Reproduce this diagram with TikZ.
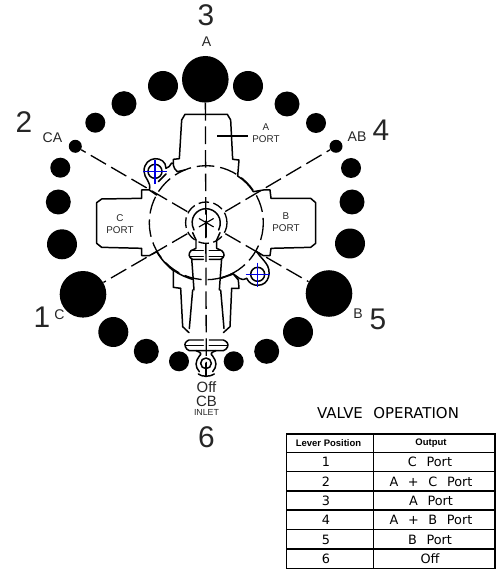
\documentclass[tikz,border=0pt]{standalone}
\usepackage{fontspec}
\setmainfont{Liberation Sans}
\newfontfamily\cadfont{DejaVu Sans}
\usetikzlibrary{calc}
\tikzset{
  dot/.style={circle,fill=black,inner sep=0pt,minimum size=#1*2*0.5691pt},
  lbl/.style={text=black!85,inner sep=0pt,font=\fontsize{#1}{#1}\selectfont},
  sld/.style={line width=0.85pt,line join=round,line cap=round},
  thn/.style={line width=0.65pt},
  dsh/.style={line width=0.75pt,dash pattern=on 10pt off 3.4pt},
  holec/.style={blue!90!black,line width=0.65pt},
  cellline/.style={line width=0.7pt},
  hd/.style={inner sep=0pt,font=\fontsize{5.4}{5.4}\selectfont\bfseries},
  cell/.style={inner sep=0pt,font=\cadfont\fontsize{7.3}{7.3}\selectfont},
  zm/.style={shift={(90,100)},scale=1/3},
  zl/.style={shift={(120,230)},scale=1/3}
}
\begin{document}
\begin{tikzpicture}[x=0.02cm,y=-0.02cm]
\useasboundingbox (0,0) rectangle (499,570);
% dots
\node[dot=23.3] (cA) at (205.3,79.3) {};
\node[dot=15] (a1) at (163,86) {};
\node[dot=12.5] (a2) at (124,103.7) {};
\node[dot=10] (a3) at (95.3,122.7) {};
\node[dot=6.5] (cCA) at (75.3,146.3) {};
\node[dot=10] (a4) at (60.3,167.7) {};
\node[dot=12.5] (a5) at (58.3,202) {};
\node[dot=15] (a6) at (62,244.3) {};
\node[dot=23.3] (cC) at (83,294.3) {};
\node[dot=15] (a7) at (113.3,332) {};
\node[dot=12.5] (a8) at (146.3,351.3) {};
\node[dot=10] (a9) at (179,361.3) {};
\node[dot=15] (b1) at (248,86) {};
\node[dot=12.5] (b2) at (287,104) {};
\node[dot=10] (b3) at (316,123) {};
\node[dot=6.5] (cAB) at (336,146.3) {};
\node[dot=10] (b4) at (351,168) {};
\node[dot=12.5] (b5) at (352,202) {};
\node[dot=15] (b6) at (350,243.5) {};
\node[dot=23.3] (cB) at (329,293.5) {};
\node[dot=15] (b7) at (298,332) {};
\node[dot=12.5] (b8) at (266.7,351.3) {};
\node[dot=10] (b9) at (233.7,361.3) {};
\coordinate (ctr) at (206.3,222.7);
\coordinate (vend) at (206.3,368);
% radial centre lines
\foreach \t in {cCA,cAB,cC,cB}{
  \draw[dsh,shorten <=12.5pt] (ctr) -- (\t);
}
\draw[dsh] (cA) -- (vend);
% dashed circles
\draw[dsh] (ctr) circle[radius=57];
\draw[dsh,dash pattern=on 6pt off 2.5pt] (ctr) circle[radius=20.7];
% asterisk + inner circle
\draw[thn] (ctr) ++(-30:8.5) -- ++(150:17);
\draw[thn] (ctr) ++(30:8.5) -- ++(210:17);
\draw[thn] (206.3,210) -- (206.3,237);
\begin{scope}[zm]
 \draw[sld] (312,390) .. controls (295,355) and (320,326) .. (348,326) .. controls (376,326) and (402,355) .. (386,390);
 % A port and upper right
 \draw[sld] (262,215) .. controls (256,208) and (250,204) .. (250,195) -- (250,178) -- (268,176) -- (275,60) -- (285,43) -- (412,43) -- (422,60) -- (428,178) -- (447,180) -- (443,228) .. controls (462,240) and (480,258) .. (490,275) -- (520,270) -- (540,270) -- (543,295) -- (662,295) -- (677,308) -- (677,430) -- (662,442) -- (543,445) -- (540,467) -- (520,467) -- (500,455);
 \draw[sld] (262,215) -- (285,210);
 \draw[sld] (430,522) .. controls (445,530) and (450,545) .. (470,535);
 % C port
 \draw[sld] (200,285) -- (178,270) -- (155,270) -- (155,295) -- (35,297) -- (20,308) -- (20,430) -- (35,442) -- (155,445) -- (155,467) -- (178,467) -- (200,455) .. controls (215,480) and (232,497) .. (250,512) -- (250,562) -- (272,565);
 % leader
 \draw[thn] (382,108) -- (475,108);
 % hole 1
 \draw[sld] (195,214) circle[radius=21];
 \draw[sld] (250,190) .. controls (240,185) and (245,200) .. (228,205) .. controls (228,165) and (162,165) .. (162,214) .. controls (162,235) and (185,245) .. (178,270);
 \draw[sld] (228,222) -- (205,245);
 \draw[holec] (159,214) -- (231,214) (195,180) -- (195,251);
 % hole 2
 \draw[sld] (500,455) .. controls (510,470) and (520,478) .. (528,490) .. controls (545,510) and (540,556) .. (503,556) .. controls (490,556) and (477,550) .. (470,535);
 \draw[sld] (503,523) circle[radius=21];
 \draw[sld] (392,535) -- (430,522) -- (445,540) -- (447,565) -- (425,565);
 \draw[holec] (467,523) -- (539,523) (503,488) -- (503,560);
 % neck
 \draw[sld] (318,420) -- (318,445) -- (303,452) .. controls (295,460) and (295,472) .. (307,478) -- (340,478);
 \draw[sld] (380,420) -- (380,445) -- (395,452) .. controls (405,460) and (405,472) .. (392,478) -- (358,478);
 \draw[sld] (303,452) -- (340,452) (358,452) -- (395,452);
 \draw[sld] (300,470) -- (340,470) (358,470) -- (400,470);
 \draw[sld] (318,420) -- (308,398);
 \draw[sld] (380,420) -- (390,398);
 \draw[sld] (252,512) .. controls (270,525) and (290,532) .. (307,538);
 % body lower sides
 \draw[sld] (272,565) -- (278,680) -- (297,698);
 \draw[sld] (425,565) -- (420,680) -- (400,698);
 % lower collar
 \draw[sld] (340,720) -- (297,720) .. controls (288,724) and (282,730) .. (286,740) .. controls (288,746) and (292,750) .. (298,752) -- (400,752) .. controls (406,750) and (411,746) .. (413,740) .. controls (416,730) and (410,724) .. (400,720) -- (358,720);
 \draw[sld] (288,737) -- (340,737) (358,737) -- (410,737);
 % inlet
 \draw[sld] (318,752) .. controls (335,758) and (335,762) .. (328,768) .. controls (315,785) and (315,800) .. (328,815);
 \draw[sld] (378,752) .. controls (361,758) and (361,762) .. (368,768) .. controls (381,785) and (381,800) .. (368,815);
 \draw[sld] (348,790) circle[radius=16];
 \draw[sld] (348,790) -- (348,830);
 \draw[sld] (325,822) .. controls (335,831) and (361,831) .. (373,822);
\end{scope}
\begin{scope}[zl]
 % stem
 \draw[sld] (215,85) -- (222,180);
 \draw[sld] (305,85) -- (298,180);
 \draw[sld] (340,130) -- (302,145);
 \draw[sld,dash pattern=on 22pt off 8pt] (218,180) -- (205,330);
 \draw[sld,dash pattern=on 22pt off 8pt] (302,180) -- (315,330);
\end{scope}
% labels
\node[lbl=17] (n3) at (206,15.5) {3};
\node[lbl=8] (lA) at (206.5,42) {A};
\node[lbl=17] (n2) at (24,122) {2};
\node[lbl=8] (lCA) at (52.5,138) {CA};
\node[lbl=8] (lAB) at (357,137) {AB};
\node[lbl=17] (n4) at (381,130) {4};
\node[lbl=17] (n1) at (42,317) {1};
\node[lbl=8] (lC) at (59.5,315) {C};
\node[lbl=8] (lB) at (358,314) {B};
\node[lbl=17] (n5) at (378,319) {5};
\node[lbl=8.5] (lOff) at (206.5,387) {Off};
\node[lbl=8.5] (lCB) at (206.5,401) {CB};
\node[lbl=5] (lIN) at (206.5,412) {INLET};
\node[lbl=17] (n6) at (206.5,437) {6};
\node[lbl=5.6,align=center] (pA) at (266,133.5) {A\\[1.3pt]PORT};
\node[lbl=5.6,align=center] (pC) at (120,224.5) {C\\[1.3pt]PORT};
\node[lbl=5.6,align=center] (pB) at (286,222.5) {B\\[1.3pt]PORT};
% table
\node[inner sep=0pt,text=black,font=\cadfont\fontsize{8.5}{8.5}\selectfont] (title) at (388,413) {VALVE\hspace{6pt}OPERATION};
\draw[cellline] (286.7,434) rectangle (495,568.3);
\draw[cellline] (373.3,434) -- (373.3,568.3);
\foreach \y in {452.3,471.7,491,510,529.7,549}{\draw[cellline] (286.7,\y) -- (495,\y);}
\node[hd] (h1) at (328.5,443.3) {Lever Position};
\node[hd] (h2) at (431,443.3) {Output};
\node[cell] (r1a) at (326,462) {1};
\node[cell] (r1b) at (430,462) {C\hspace{5.5pt}Port};
\node[cell] (r2a) at (326,481.5) {2};
\node[cell] (r2b) at (431,481.5) {A\hspace{5.5pt}+\hspace{5.5pt}C\hspace{5.5pt}Port};
\node[cell] (r3a) at (326,500.5) {3};
\node[cell] (r3b) at (431,500.5) {A\hspace{5.5pt}Port};
\node[cell] (r4a) at (326,520) {4};
\node[cell] (r4b) at (431,520) {A\hspace{5.5pt}+\hspace{5.5pt}B\hspace{5.5pt}Port};
\node[cell] (r5a) at (326,539.5) {5};
\node[cell] (r5b) at (430,539.5) {B\hspace{5.5pt}Port};
\node[cell] (r6a) at (326,558.5) {6};
\node[cell] (r6b) at (430,558.5) {Off};
\end{tikzpicture}
\end{document}
